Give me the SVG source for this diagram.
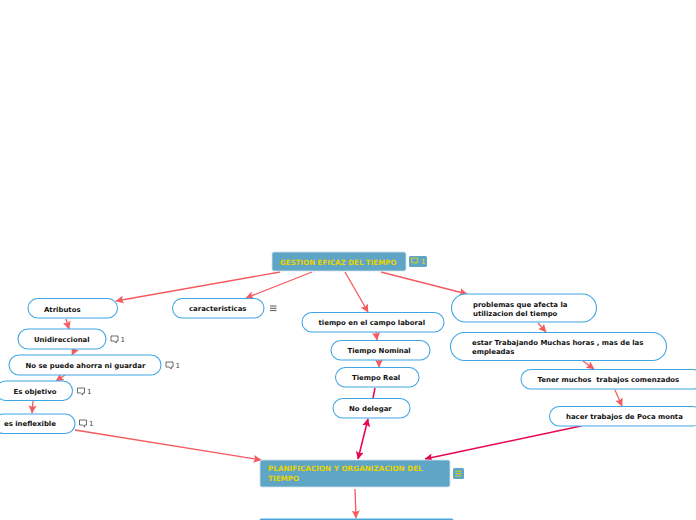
<svg xmlns="http://www.w3.org/2000/svg" width="696" height="520" viewBox="0 0 696 520">
<style>
text{font-family:"DejaVu Sans",Verdana,sans-serif;font-weight:700;font-size:6.93px;fill:#111;white-space:pre}
.n{fill:#fff;stroke:#3fa6e4;stroke-width:1.1}
.m{fill:#5fa5c6;stroke:#cfe3ee;stroke-width:.8}
text.t{fill:#e8d400;font-size:7.25px}
text.rt{font-size:7.08px}
.b{fill:none;stroke:#444;stroke-width:.8}
text.c{font-weight:400;font-size:7px;fill:#444}
.l{fill:none;stroke:#f55a5f;stroke-width:1.3}
.p{fill:none;stroke:#e8064e;stroke-width:1.5}
</style>
<defs>
<marker id="a" markerUnits="userSpaceOnUse" markerWidth="10" markerHeight="10" refX="7.500" refY="4" orient="auto"><path d="M0 0L8 4L0 8L1.500 4Z" fill="#f55a5f"/></marker>
<marker id="r" markerUnits="userSpaceOnUse" markerWidth="10" markerHeight="10" refX="7.500" refY="4" orient="auto-start-reverse"><path d="M0 0L8 4L0 8L1.500 4Z" fill="#e8064e"/></marker>
<g id="cm"><path class="b" d="M0 0h7v5h-1.800v2l-2.200-2H0Z"/></g>
<g id="mn"><path d="M0 0h6.500M0 2.300h6.500M0 4.600h6.500" fill="none" stroke="#444" stroke-width=".9"/></g>
</defs>
<g id="connectors">
<path class="l" marker-end="url(#a)" d="M280 272L116 301"/>
<path class="l" marker-end="url(#a)" d="M312 272L246 298"/>
<path class="l" marker-end="url(#a)" d="M345 272L368 312"/>
<path class="l" marker-end="url(#a)" d="M381 272L467 294"/>
<path class="l" marker-end="url(#a)" d="M66 319L69 329"/>
<path class="l" marker-end="url(#a)" d="M75 349L72 355"/>
<path class="l" marker-end="url(#a)" d="M65 375L56 381"/>
<path class="l" marker-end="url(#a)" d="M33 401L32 413"/>
<path class="l" marker-end="url(#a)" d="M75 430L261 460"/>
<path class="l" marker-end="url(#a)" d="M376 332L377 340"/>
<path class="l" marker-end="url(#a)" d="M379 360L379 367"/>
<path class="p" d="M375 388L373 398"/>
<path class="p" marker-start="url(#r)" marker-end="url(#r)" d="M368 419L358 459"/>
<path class="l" marker-end="url(#a)" d="M538 323L546 332"/>
<path class="l" marker-end="url(#a)" d="M583 361L594 369"/>
<path class="l" marker-end="url(#a)" d="M615 390L622 406"/>
<path class="p" marker-end="url(#r)" d="M581 426L425 459"/>
<path class="l" marker-end="url(#a)" d="M355 489L356 518"/>
</g>
<g id="root"><rect class="m" x="272" y="252" width="134" height="19" rx="2"/><text class="t rt" x="280" y="265">GESTION EFICAZ DEL TIEMPO</text></g>
<g id="root-badge"><rect x="409" y="256" width="18" height="11" rx="1.500" fill="#5fa5c6"/><path d="M411.500 258h6v4.500h-1.500v1.500l-2-1.500h-2.500Z" fill="none" stroke="#e8d400" stroke-width=".8"/><text class="c" x="421" y="264" style="fill:#e8d400">1</text></g>
<g id="atributos"><rect class="n" x="28" y="298.500" width="89.500" height="19.500" rx="9.700"/><text x="44" y="312">Atributos</text></g>
<g id="unidireccional"><rect class="n" x="18" y="329" width="88" height="20" rx="10"/><text x="34" y="342">Unidireccional</text><use href="#cm" x="111" y="336"/><text class="c" x="120.500" y="342">1</text></g>
<g id="no-se-puede"><rect class="n" x="9" y="355" width="152" height="20" rx="10"/><text x="25.500" y="368">No se puede ahorra ni guardar</text><use href="#cm" x="166" y="362"/><text class="c" x="175.500" y="368">1</text></g>
<g id="es-objetivo"><rect class="n" x="-4" y="381" width="76.500" height="19.500" rx="9.700"/><text x="13.500" y="394">Es objetivo</text><use href="#cm" x="77.500" y="388"/><text class="c" x="87" y="394">1</text></g>
<g id="es-ineflexible"><rect class="n" x="-6" y="414" width="81" height="19.500" rx="9.700"/><text x="4" y="426">es ineflexible</text><use href="#cm" x="79.500" y="420"/><text class="c" x="89" y="426">1</text></g>
<g id="caracteristicas"><rect class="n" x="172.500" y="298.500" width="91.500" height="19.500" rx="9.700"/><text x="189" y="311">caracteristicas</text><use href="#mn" x="270" y="306"/></g>
<g id="campo-laboral"><rect class="n" x="302" y="312.500" width="142" height="19.500" rx="9.700"/><text x="318.500" y="325">tiempo en el campo laboral</text></g>
<g id="tiempo-nominal"><rect class="n" x="331" y="340.500" width="99" height="19.500" rx="9.700"/><text x="347.500" y="353">Tiempo Nominal</text></g>
<g id="tiempo-real"><rect class="n" x="335.500" y="367.500" width="83.500" height="19.500" rx="9.700"/><text x="352" y="380">Tiempo Real</text></g>
<g id="no-delegar"><rect class="n" x="333" y="398.500" width="77" height="19.500" rx="9.700"/><text x="349" y="411">No delegar</text></g>
<g id="problemas"><rect class="n" x="451.500" y="294" width="145" height="28" rx="14"/><text x="473" y="307">problemas que afecta la</text><text x="473" y="316">utilizacion del tiempo</text></g>
<g id="estar-trabajando"><rect class="n" x="450.500" y="332.500" width="216" height="28" rx="14"/><text x="472" y="345">estar Trabajando Muchas horas , mas de las</text><text x="472" y="354">empleadas</text></g>
<g id="tener-muchos"><rect class="n" x="521" y="369.500" width="182" height="19.500" rx="9.700"/><text x="537.500" y="382">Tener muchos  trabajos comenzados</text></g>
<g id="hacer-trabajos"><rect class="n" x="549.500" y="406.500" width="153" height="19.500" rx="9.700"/><text x="566" y="419">hacer trabajos de Poca monta</text></g>
<g id="planificacion"><rect class="m" x="260" y="460" width="190" height="27" rx="2"/><text class="t" x="268" y="471">PLANIFICACION Y ORGANIZACION DEL</text><text class="t" x="268" y="481">TIEMPO</text></g>
<g id="plan-badge"><rect x="453" y="468" width="11" height="11" rx="1.500" fill="#5fa5c6"/><path d="M455.500 471.200h6M455.500 473.500h6M455.500 475.800h6" stroke="#e8d400" stroke-width=".9" fill="none"/></g>
<g id="bottom-node"><rect x="259.500" y="519" width="194" height="8" rx="2" fill="#5fa5c6" stroke="#3fa6e4" stroke-width="1"/></g>
</svg>
